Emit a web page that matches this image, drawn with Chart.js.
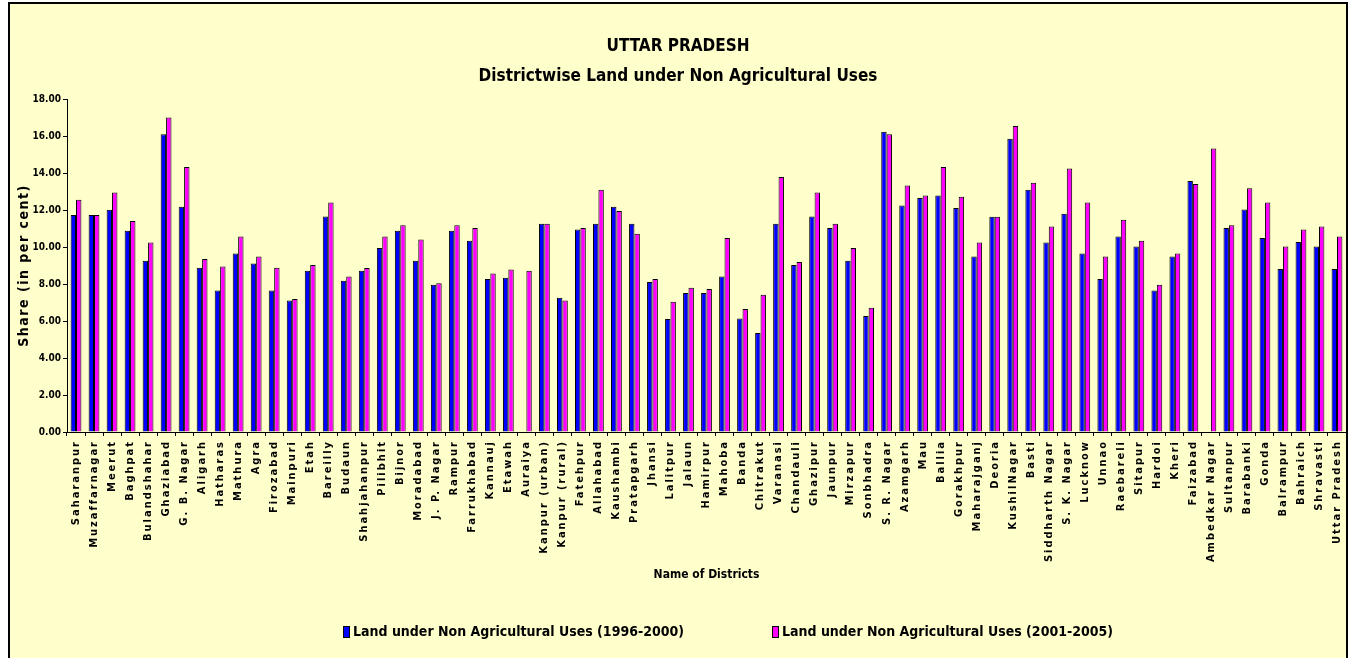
<!DOCTYPE html>
<html>
<head>
<meta charset="utf-8">
<script src="https://cdn.jsdelivr.net/npm/chart.js@4.4.1/dist/chart.umd.min.js"></script>
<style>
  html, body { margin: 0; padding: 0; background: #fff; overflow: hidden; }
  #frame {
    position: absolute; left: 8px; top: 2px;
    width: 1336px; height: 656px;
    border-left: 2px solid #000; border-top: 2px solid #000; border-right: 2px solid #000;
    background: #FFFFCC;
  }
</style>
</head>
<body>
<div id="frame"><canvas id="chart" width="1336" height="656"></canvas></div>
<script>
// District names (x axis)
const districts = [
  'Saharanpur', 'Muzaffarnagar', 'Meerut', 'Baghpat', 'Bulandshahar', 'Ghaziabad', 'G. B. Nagar',
  'Aligarh', 'Hatharas', 'Mathura', 'Agra', 'Firozabad', 'Mainpuri', 'Etah', 'Bareilly', 'Budaun',
  'Shahjahanpur', 'Pilibhit', 'Bijnor', 'Moradabad', 'J. P. Nagar', 'Rampur', 'Farrukhabad',
  'Kannauj', 'Etawah', 'Auraiya', 'Kanpur (urban)', 'Kanpur (rural)', 'Fatehpur', 'Allahabad',
  'Kaushambi', 'Pratapgarh', 'Jhansi', 'Lalitpur', 'Jalaun', 'Hamirpur', 'Mahoba', 'Banda',
  'Chitrakut', 'Varanasi', 'Chandauli', 'Ghazipur', 'Jaunpur', 'Mirzapur', 'Sonbhadra',
  'S. R. Nagar', 'Azamgarh', 'Mau', 'Ballia', 'Gorakhpur', 'Maharajganj', 'Deoria', 'KushilNagar',
  'Basti', 'Siddharth Nagar', 'S. K. Nagar', 'Lucknow', 'Unnao', 'Raebareli', 'Sitapur', 'Hardoi',
  'Kheri', 'Faizabad', 'Ambedkar Nagar', 'Sultanpur', 'Barabanki', 'Gonda', 'Balrampur',
  'Bahraich', 'Shravasti', 'Uttar Pradesh'
];

// Share (in per cent), 1996-2000
const share1996 = [
  11.73, 11.73, 12.02, 10.88, 9.26, 16.10, 12.18,
  8.88, 7.65, 9.65, 9.11, 7.65, 7.11, 8.72, 11.65, 8.18,
  8.72, 9.95, 10.88, 9.26, 7.96, 10.88, 10.34,
  8.27, 8.34, null, 11.26, 7.26, 10.95, 11.26,
  12.18, 11.26, 8.11, 6.11, 7.51, 7.51, 8.41, 6.13,
  5.35, 11.26, 9.03, 11.65, 11.03, 9.26, 6.27,
  16.23, 12.25, 12.65, 12.79, 12.11, 9.49, 11.64, 15.85,
  13.10, 10.25, 11.80, 9.65, 8.27, 10.57, 10.03, 7.65,
  9.49, 13.57, null, 11.03, 12.03, 10.49, 8.81,
  10.27, 10.03, 8.81
];

// Share (in per cent), 2001-2005
const share2001 = [
  12.56, 11.73, 12.94, 11.40, 10.25, 17.00, 14.32,
  9.35, 8.95, 10.57, 9.49, 8.88, 7.19, 9.03, 12.41, 8.41,
  8.86, 10.57, 11.17, 10.41, 8.04, 11.17, 11.03,
  8.57, 8.79, 8.72, 11.26, 7.11, 11.03, 13.10,
  11.95, 10.72, 8.27, 7.04, 7.80, 7.73, 10.49, 6.65,
  7.42, 13.78, 9.19, 12.94, 11.26, 9.95, 6.72,
  16.10, 13.33, 12.79, 14.32, 12.72, 10.25, 11.64, 16.54,
  13.48, 11.11, 14.25, 12.41, 9.49, 11.48, 10.34, 7.96,
  9.65, 13.41, 15.33, 11.17, 13.17, 12.41, 10.03,
  10.95, 11.11, 10.57
];

const seriesLabels = [
  'Land under Non Agricultural Uses (1996-2000)',
  'Land under Non Agricultural Uses (2001-2005)'
];

const FAM = "'DejaVu Sans Condensed', 'Liberation Sans Narrow', sans-serif";

// letter-spaced x tick labels and y axis title, like the original sheet
const spacedText = {
  id: 'spacedText',
  beforeDraw(chart) {
    const xs = chart.scales.x;
    const ys = chart.scales.y;
    if (!xs._spaced) {
      const drawLabels = xs.drawLabels;
      xs.drawLabels = function (area) {
        this.ctx.letterSpacing = '2px';
        drawLabels.call(this, area);
        this.ctx.letterSpacing = '0px';
      };
      xs._spaced = true;
    }
    if (!ys._spaced) {
      const drawTitle = ys.drawTitle;
      ys.drawTitle = function () {
        this.ctx.letterSpacing = '1.5px';
        drawTitle.call(this);
        this.ctx.letterSpacing = '0px';
      };
      ys._spaced = true;
    }
  }
};

// legend row with wide gap between the two items
const legendRow = {
  id: 'legendRow',
  afterDraw(chart) {
    const ctx = chart.ctx;
    const starts = [333, 762];
    const y = 628;
    ctx.save();
    ctx.font = 'bold 14px ' + FAM;
    ctx.textBaseline = 'middle';
    chart.data.datasets.forEach((ds, i) => {
      const x = starts[i];
      ctx.fillStyle = ds.backgroundColor;
      ctx.fillRect(x, y - 6, 7, 12);
      ctx.strokeStyle = '#000';
      ctx.lineWidth = 1;
      ctx.strokeRect(x + 0.5, y - 5.5, 6, 11);
      ctx.fillStyle = '#000';
      ctx.fillText(ds.label, x + 10, y);
    });
    ctx.restore();
  }
};

const ctx = document.getElementById('chart').getContext('2d');
const chart = new Chart(ctx, {
  type: 'bar',
  data: {
    labels: districts,
    datasets: [
      {
        label: seriesLabels[0],
        data: share1996,
        backgroundColor: '#0000FF',
        borderColor: '#000000',
        borderWidth: 1
      },
      {
        label: seriesLabels[1],
        data: share2001,
        backgroundColor: '#FF00FF',
        borderColor: '#000000',
        borderWidth: 1
      }
    ]
  },
  options: {
    responsive: false,
    animation: false,
    devicePixelRatio: 1,
    categoryPercentage: 0.6,
    barPercentage: 1.0,
    layout: { padding: { top: 0, left: 0, right: 0, bottom: 78 } },
    scales: {
      x: {
        afterFit(scale) {
          scale.height = 150;
          scale.paddingLeft = 0;
          scale.paddingRight = 0;
        },
        grid: { drawOnChartArea: false, drawTicks: true, tickLength: 4, color: '#000' },
        border: { display: true, color: '#000' },
        ticks: {
          autoSkip: false,
          minRotation: 90,
          maxRotation: 90,
          padding: 4,
          color: '#000',
          font: { family: FAM, size: 11, weight: 'bold' }
        },
        title: {
          display: true,
          text: 'Name of Districts',
          color: '#000',
          padding: { top: 0, bottom: 0 },
          font: { family: FAM, size: 12, weight: 'bold' }
        }
      },
      y: {
        min: 0,
        max: 18,
        afterFit(scale) { scale.width = 57; },
        grid: { drawOnChartArea: false, drawTicks: true, tickLength: 4, color: '#000' },
        border: { display: true, color: '#000' },
        ticks: {
          stepSize: 2,
          padding: 2,
          color: '#000',
          font: { family: FAM, size: 10, weight: 'bold' },
          callback: v => v.toFixed(2)
        },
        title: {
          display: true,
          text: 'Share (in per cent)',
          color: '#000',
          padding: { top: 6, bottom: 0 },
          font: { family: FAM, size: 14, weight: 'bold' }
        }
      }
    },
    plugins: {
      legend: { display: false },
      tooltip: { enabled: false },
      title: {
        display: true,
        text: ['UTTAR PRADESH', 'Districtwise Land under Non Agricultural Uses'],
        color: '#000',
        padding: { top: 28, bottom: 7 },
        font: { family: FAM, size: 17, weight: 'bold', lineHeight: 1.765 }
      }
    }
  },
  plugins: [spacedText, legendRow]
});
</script>
</body>
</html>
